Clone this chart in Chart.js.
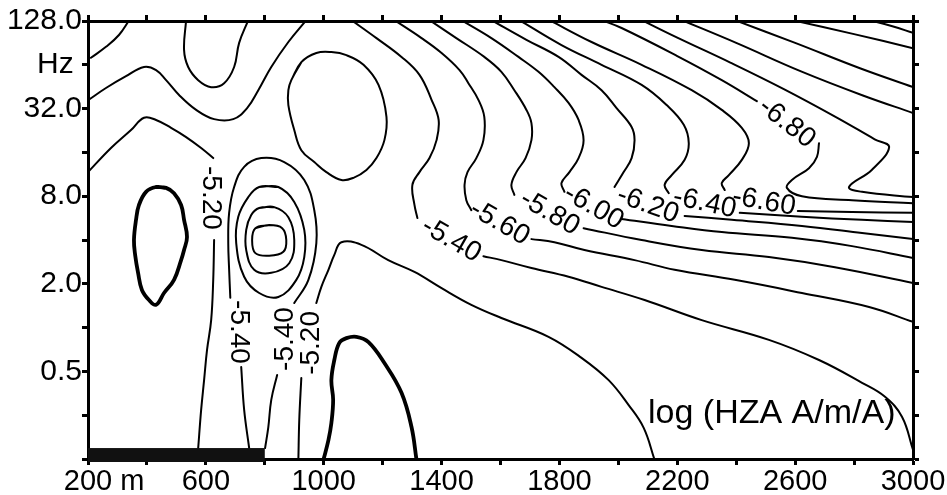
<!DOCTYPE html>
<html>
<head>
<meta charset="utf-8">
<script src="https://cdn.jsdelivr.net/npm/chart.js@4.4.1/dist/chart.umd.min.js"></script>
<style>
html,body{margin:0;padding:0;background:#fff}
#wrap{width:947px;height:495px}
</style>
</head>
<body>
<div id="wrap"><canvas id="chart" width="947" height="495"></canvas></div>
<script>
// x: distance along profile (m), y: log2 of frequency (Hz)
const xTickValues=[200,600,1000,1400,1800,2200,2600,3000];
const xTickLabels=['200 m','600','1000','1400','1800','2200','2600','3000'];
const yTickValues=[7,6,5,3,1,-1];
const yTickLabels=['128.0','Hz','32.0','8.0','2.0','0.5'];

// contour lines, [m, log2 Hz]
const cTopCorner=[[210,6.16],[261,6.41],[305,6.68],[340,7.02]];
const cUpperLeft=[[200,5.19],[261,5.47],[329,5.74],[390,5.95],[431,5.88],[465,5.65],[509,5.31],[567,4.97],[628,4.76],[693,4.76],[740,5.01],[778,5.42],[822,5.95],[880,6.52],[941,7.02]];
const cTopU=[[533,7.02],[526,6.34],[540,5.95],[574,5.65],[618,5.49],[662,5.58],[696,5.95],[713,6.50],[744,7.02]];
const c520LeftTop=[[200,3.55],[278,4.10],[346,4.51],[390,4.79],[431,4.74],[482,4.56],[533,4.35],[584,4.10],[625,3.87]];
const c520LeftLow=[[628,2.00],[625,1.09],[618,0.17],[604,-0.51],[594,-1.20],[584,-1.88],[574,-2.75]];
const c500Left=[[431,3.21],[465,3.19],[492,3.07],[516,2.80],[526,2.46],[536,2.07],[526,1.77],[516,1.54],[492,1.09],[458,0.79],[431,0.52],[407,0.63],[383,0.86],[370,1.25],[360,1.66],[356,2.00],[363,2.46],[373,2.80],[397,3.10]];
const cEyeInner=[[768,2.27],[815,2.34],[859,2.27],[873,2.00],[863,1.73],[815,1.64],[768,1.70],[757,2.00]];
const cEyeMid=[[781,2.73],[832,2.75],[880,2.52],[900,2.00],[883,1.47],[822,1.25],[764,1.32],[737,1.77],[737,2.23],[754,2.57]];
const cEyeOuter=[[781,3.21],[846,3.21],[900,2.87],[934,2.23],[934,1.61],[907,1.09],[846,0.70],[781,0.79],[730,1.16],[703,1.93],[710,2.53],[744,2.98]];
const c540EyeTop=[[683,0.68],[679,1.32],[676,1.93],[679,2.62],[696,3.21],[730,3.67],[788,3.87],[866,3.78],[934,3.37],[968,2.68],[975,1.93],[948,1.09],[900,0.56]];
const c540EyeLeft=[[720,-0.90],[730,-1.88],[747,-2.75]];
const c540EyeRight=[[842,-1.08],[822,-1.65],[812,-2.27],[801,-2.75]];
const c520RightLow=[[914,-3.02],[917,-2.11],[924,-1.15]];
const c520RightTop=[[975,0.56],[992,0.93],[1016,1.32],[1036,1.66],[1060,1.95],[1128,1.89],[1219,1.54],[1308,1.27],[1400,0.90],[1501,0.52],[1603,0.22],[1763,-0.21],[1875,-0.69],[1967,-1.20],[2035,-1.77],[2086,-2.29],[2123,-3.02]];
const c500Bottom=[[999,-3.02],[1016,-2.57],[1026,-2.18],[1032,-1.65],[1026,-1.20],[1036,-0.74],[1053,-0.35],[1077,-0.24],[1111,-0.21],[1152,-0.33],[1206,-0.81],[1264,-1.49],[1298,-2.27],[1315,-3.02]];
const cOval=[[890,5.65],[924,6.06],[975,6.27],[1026,6.29],[1077,6.22],[1135,6.00],[1186,5.54],[1213,4.81],[1206,4.28],[1179,3.87],[1145,3.60],[1101,3.42],[1060,3.37],[1009,3.55],[968,3.78],[924,4.05],[900,4.51],[880,5.08],[880,5.42]];
const c540Top=[[1094,7.02],[1179,6.61],[1264,6.18],[1325,5.77],[1366,5.20],[1390,4.74],[1383,4.28],[1359,3.87],[1325,3.55],[1301,3.26],[1308,2.80],[1318,2.50]];
const c540Low=[[1542,1.63],[1603,1.54],[1705,1.36],[1831,1.16],[1943,0.93],[2089,0.63],[2283,0.17],[2511,-0.28],[2681,-0.74],[2827,-1.26],[2905,-1.58],[2963,-2.04],[3000,-2.79]];
const c560Top=[[1240,7.02],[1332,6.61],[1400,6.27],[1461,5.88],[1491,5.58],[1525,5.20],[1545,4.81],[1542,4.28],[1518,3.87],[1488,3.55],[1478,3.26],[1484,2.91],[1501,2.68]];
const c560Low=[[1705,2.02],[1783,1.95],[1885,1.77],[2055,1.54],[2191,1.32],[2395,1.09],[2623,0.79],[2851,0.47],[3000,0.13]];
const c580Top=[[1359,7.02],[1450,6.61],[1545,6.18],[1603,5.84],[1647,5.42],[1688,4.97],[1705,4.67],[1705,4.28],[1685,3.87],[1654,3.55],[1637,3.26],[1647,3.03]];
const c580Low=[[1882,2.27],[2079,2.00],[2283,1.77],[2511,1.61],[2735,1.38],[3000,1.02]];
const c600Top=[[1467,7.02],[1569,6.61],[1661,6.18],[1729,5.84],[1783,5.49],[1831,5.13],[1865,4.74],[1882,4.28],[1865,3.87],[1834,3.55],[1807,3.30],[1817,3.10]];
const c600Low=[[2011,2.48],[2181,2.32],[2351,2.18],[2589,2.05],[2793,1.86],[3000,1.59]];
const c620Top=[[1569,7.02],[1688,6.57],[1797,6.18],[1875,5.77],[1943,5.42],[1994,5.01],[2045,4.58],[2055,4.28],[2045,3.87],[2018,3.55],[1987,3.21]];
const c620Low=[[2225,2.55],[2385,2.46],[2623,2.32],[2827,2.16],[3000,2.02]];
const c640Top=[[1664,7.02],[1807,6.45],[1943,6.00],[2079,5.54],[2164,5.08],[2222,4.63],[2239,4.21],[2225,3.83],[2181,3.48],[2157,3.26],[2171,3.07]];
const c640Low=[[2412,2.62],[2623,2.53],[2827,2.46],[3000,2.41]];
const c660Top=[[1766,7.02],[1909,6.52],[2079,6.00],[2249,5.42],[2351,4.97],[2419,4.56],[2443,4.21],[2419,3.83],[2375,3.48],[2351,3.30],[2361,3.14]];
const c660Low=[[2609,2.66],[2793,2.64],[3000,2.62]];
const c680Top=[[1943,7.02],[2011,6.84],[2200,6.20],[2351,5.65],[2470,5.17]];
const c680Low=[[2681,4.21],[2674,3.90],[2647,3.64],[2589,3.37],[2572,3.19],[2623,3.00],[2793,2.91],[3000,2.84]];
const c700=[[2079,7.02],[2200,6.62],[2380,6.05],[2560,5.45],[2740,4.80],[2870,4.30],[2919,4.12],[2860,3.60],[2783,3.21],[2827,3.10],[3000,2.98]];
const c720=[[2215,7.02],[2400,6.50],[2620,5.85],[2830,5.30],[3000,4.90]];
const c740=[[2395,7.02],[2600,6.50],[2820,5.92],[3000,5.49]];
const c760=[[2589,7.02],[2800,6.70],[3000,6.38]];
const c780=[[2851,7.02],[2930,6.88],[3000,6.73]];

const contourLabels=['-5.20','-5.40','-5.40','-5.20','-5.40','-5.60','-5.80','-6.00','-6.20','-6.40','-6.60','-6.80'];
const contourLabelX=[618,710,869,958,1433,1597,1767,1916,2100,2293,2494,2572];
const contourLabelY=[2.96,-0.10,-0.26,-0.35,2.00,2.39,2.62,2.75,2.80,2.84,2.87,4.67];
const contourLabelAngle=[90,90,-90,-90,30,30,30,30,20,12,10,38];

const profileBar=[200,800];   // m, black bar along the base
const profileBarTop=-2.75;

const thinLines=[cTopCorner,cUpperLeft,cTopU,c520LeftTop,c520LeftLow,c540EyeTop,c540EyeLeft,c540EyeRight,
  c520RightLow,c520RightTop,c540Top,c540Low,c560Top,c560Low,c580Top,c580Low,c600Top,c600Low,c620Top,c620Low,
  c640Top,c640Low,c660Top,c660Low,c680Top,c680Low,c700,c720,c740,c760,c780];
const closedLines=[cEyeInner,cEyeMid,cEyeOuter,cOval];
const thickLines=[c500Bottom];
const thickClosed=[c500Left];

const FONT='"Liberation Sans", Arial, sans-serif';
Chart.defaults.font.family=FONT;
Chart.defaults.color='#000';

function toPoints(list){return list.map(p=>({x:p[0],y:p[1]}));}
function closeLoop(list){return list.concat([list[0],list[1]]);}

const datasets=[];
thinLines.forEach(l=>datasets.push({data:toPoints(l),borderWidth:2}));
closedLines.forEach(l=>datasets.push({data:toPoints(closeLoop(l)),borderWidth:2}));
thickLines.forEach(l=>datasets.push({data:toPoints(l),borderWidth:3.8}));
thickClosed.forEach(l=>datasets.push({data:toPoints(closeLoop(l)),borderWidth:3.8}));

const AREA={left:88,right:913,top:21,bottom:459};

function tickCfg(){
  return {
    grid:{drawOnChartArea:false,drawTicks:true,tickLength:6,tickWidth:3,tickColor:'#000'},
    border:{display:true,width:3,color:'#000'}
  };
}

const overlay={
  id:'overlay',
  afterDatasetsDraw(chart){
    const {ctx,scales:{x,y},chartArea}=chart;
    ctx.save();
    // black profile bar
    const bx0=x.getPixelForValue(profileBar[0]),bx1=x.getPixelForValue(profileBar[1]);
    const by=y.getPixelForValue(profileBarTop);
    ctx.fillStyle='#111';
    ctx.fillRect(bx0,by,bx1-bx0,chartArea.bottom+3-by);
    // contour labels
    ctx.fillStyle='#000';
    ctx.font='28px '+FONT;
    ctx.textAlign='center';
    ctx.textBaseline='middle';
    contourLabels.forEach((t,i)=>{
      ctx.save();
      ctx.translate(x.getPixelForValue(contourLabelX[i]),y.getPixelForValue(contourLabelY[i]));
      ctx.rotate(contourLabelAngle[i]*Math.PI/180);
      ctx.fillText(t,0,0);
      ctx.restore();
    });
    // unit caption
    ctx.font='34px '+FONT;
    ctx.textAlign='left';
    ctx.textBaseline='alphabetic';
    ctx.fillText('log (HZA A/m/A)',648,423);
    ctx.restore();
  }
};

new Chart(document.getElementById('chart'),{
  type:'scatter',
  data:{datasets},
  options:{
    responsive:false,
    animation:false,
    showLine:true,
    layout:{padding:0},
    elements:{
      point:{radius:0,hoverRadius:0},
      line:{tension:0.4,borderColor:'#000',fill:false,borderCapStyle:'round',borderJoinStyle:'round'}
    },
    plugins:{legend:{display:false},tooltip:{enabled:false}},
    scales:{
      x:{
        type:'linear',position:'bottom',min:200,max:3000,
        ...tickCfg(),
        afterBuildTicks:s=>{s.ticks=[];for(let v=200;v<=3000;v+=200)s.ticks.push({value:v});},
        afterFit:s=>{s.height=495-AREA.bottom;},
        ticks:{
          autoSkip:false,maxRotation:0,minRotation:0,padding:0,font:{size:29},color:'#000',
          callback:v=>{const i=xTickValues.indexOf(v);if(i<0)return '';return i===0?'    '+xTickLabels[0]:xTickLabels[i];}
        }
      },
      xTop:{
        type:'linear',position:'top',min:200,max:3000,
        ...tickCfg(),
        afterBuildTicks:s=>{s.ticks=[];for(let v=200;v<=3000;v+=200)s.ticks.push({value:v});},
        afterFit:s=>{s.height=AREA.top;},
        ticks:{callback:()=>''}
      },
      y:{
        type:'linear',position:'left',min:-3,max:7,
        ...tickCfg(),
        afterBuildTicks:s=>{s.ticks=[];for(let v=-3;v<=7;v++)s.ticks.push({value:v});},
        afterFit:s=>{s.width=AREA.left;},
        ticks:{
          autoSkip:false,padding:0,font:{size:30},color:'#000',
          callback:v=>{const i=yTickValues.indexOf(v);if(i<0)return '';return yTickLabels[i]==='Hz'?'Hz ':yTickLabels[i];}
        }
      },
      yRight:{
        type:'linear',position:'right',min:-3,max:7,
        ...tickCfg(),
        afterBuildTicks:s=>{s.ticks=[];for(let v=-3;v<=7;v++)s.ticks.push({value:v});},
        afterFit:s=>{s.width=947-AREA.right;},
        ticks:{callback:()=>''}
      }
    }
  },
  plugins:[overlay]
});
</script>
</body>
</html>
